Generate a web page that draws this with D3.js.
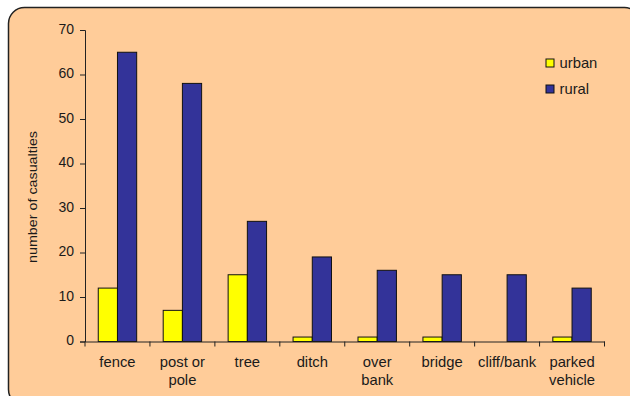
<!DOCTYPE html>
<html>
<head>
<meta charset="utf-8">
<script src="https://cdn.jsdelivr.net/npm/d3@7/dist/d3.min.js"></script>
<style>
  html, body { margin: 0; padding: 0; background: #ffffff; }
  svg { display: block; }
  text { font-family: "Liberation Sans", Arial, sans-serif; fill: #1a1a1a; }
</style>
</head>
<body>
<script>
// Casualties by object struck, urban vs rural
const categories = ["fence", "post or pole", "tree", "ditch", "over bank", "bridge", "cliff/bank", "parked vehicle"];
const seriesNames = ["urban", "rural"];
const urban = [12, 7, 15, 1, 1, 1, 0, 1];
const rural = [65, 58, 27, 19, 16, 15, 15, 12];
const yTicks = [0, 10, 20, 30, 40, 50, 60, 70];
const seriesColors = { urban: "#ffff00", rural: "#333399" };
const yLabel = "number of casualties";

const W = 630, H = 396;
const svg = d3.select("body").append("svg").attr("width", W).attr("height", H);

// chart panel
svg.append("rect")
  .attr("x", 8.5).attr("y", 7.5)
  .attr("width", 632).attr("height", 398)
  .attr("rx", 16).attr("ry", 16)
  .attr("fill", "#ffcc99")
  .attr("stroke", "#222").attr("stroke-width", 1.5);

const plot = { left: 85, right: 604.5, top: 30, bottom: 341.5 };

const x = d3.scaleBand().domain(categories).range([plot.left, plot.right]).padding(0);
const xs = d3.scaleBand().domain(seriesNames).range([0, x.bandwidth()]).paddingInner(0).paddingOuter(0.69);
const y = d3.scaleLinear().domain([0, 70]).range([plot.bottom, plot.top]);

// bars
const rows = categories.map((c, i) => ({ c, urban: urban[i], rural: rural[i] }));
const groups = svg.append("g").selectAll("g").data(rows).join("g")
  .attr("transform", d => `translate(${x(d.c)},0)`);
groups.selectAll("rect")
  .data(d => seriesNames.map(s => ({ s, v: d[s] })).filter(e => e.v > 0))
  .join("rect")
  .attr("x", e => xs(e.s))
  .attr("width", xs.bandwidth())
  .attr("y", e => y(e.v))
  .attr("height", e => y(0) - y(e.v))
  .attr("fill", e => seriesColors[e.s])
  .attr("stroke", "#111").attr("stroke-width", 1);

// y axis
const yAxis = svg.append("g")
  .attr("transform", `translate(${plot.left},0)`)
  .call(d3.axisLeft(y).tickValues(yTicks).tickSize(5).tickPadding(6).tickFormat(d3.format("d")));
yAxis.attr("font-size", null).attr("font-family", null);
yAxis.select(".domain").attr("stroke", "#222");
yAxis.selectAll(".tick line").attr("stroke", "#222");
yAxis.selectAll("text")
  .attr("dy", "0.22em")
  .style("font-size", "14px")
  .style("fill", "#1a1a1a");

// x axis: line with ticks at category boundaries
const xAxis = svg.append("g")
  .attr("transform", `translate(0,${plot.bottom})`)
  .call(d3.axisBottom(x).tickSize(0).tickFormat(""));
xAxis.select(".domain").attr("stroke", "#222");
const edges = categories.map(c => x(c)).concat([x.range()[1]]);
xAxis.selectAll(".edge").data(edges).join("line")
  .attr("class", "edge")
  .attr("x1", d => d).attr("x2", d => d)
  .attr("y1", 0).attr("y2", 5)
  .attr("stroke", "#222");

// category labels, wrapped into lines
const maxW = 62;
const labels = svg.append("g").selectAll("text").data(categories).join("text")
  .attr("x", d => x(d) + x.bandwidth() / 2)
  .attr("y", 367)
  .attr("text-anchor", "middle")
  .style("font-size", "14.8px");
labels.each(function (d) {
  const t = d3.select(this);
  const words = d.split(" ");
  let line = [], lines = [];
  const probe = t.append("tspan");
  words.forEach(w => {
    const trial = line.concat([w]).join(" ");
    probe.text(trial);
    if (probe.node().getComputedTextLength() > maxW && line.length) {
      lines.push(line.join(" "));
      line = [w];
    } else {
      line.push(w);
    }
  });
  lines.push(line.join(" "));
  probe.remove();
  lines.forEach((l, i) => {
    t.append("tspan").attr("x", x(d) + x.bandwidth() / 2).attr("dy", i === 0 ? 0 : 18).text(l);
  });
});

// y axis title
svg.append("text")
  .attr("transform", `translate(37,197) rotate(-90)`)
  .attr("text-anchor", "middle")
  .style("font-size", "12.5px")
  .attr("textLength", 132)
  .attr("lengthAdjust", "spacingAndGlyphs")
  .text(yLabel);

// legend
const legend = svg.append("g").selectAll("g").data(seriesNames).join("g")
  .attr("transform", (d, i) => `translate(546,${59 + i * 26})`);
legend.append("rect")
  .attr("width", 8).attr("height", 8)
  .attr("fill", d => seriesColors[d])
  .attr("stroke", "#111").attr("stroke-width", 1);
legend.append("text")
  .attr("x", 13.5).attr("y", 8.7)
  .style("font-size", "14.8px")
  .text(d => d);
</script>
</body>
</html>
